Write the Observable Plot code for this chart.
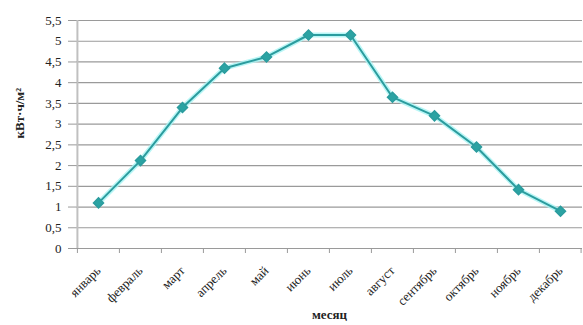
<!DOCTYPE html>
<html>
<head>
<meta charset="utf-8">
<script src="https://cdn.jsdelivr.net/npm/d3@7"></script>
<script src="https://cdn.jsdelivr.net/npm/@observablehq/plot@0.6"></script>
<style>
  html, body { margin: 0; padding: 0; background: #fff; }
  svg { font-family: "Liberation Serif", "Times New Roman", serif; }
</style>
</head>
<body>
<div id="chart"></div>
<script>
const months = ["январь","февраль","март","апрель","май","июнь","июль","август","сентябрь","октябрь","ноябрь","декабрь"];
const values = [1.1, 2.12, 3.4, 4.35, 4.62, 5.15, 5.15, 3.65, 3.2, 2.45, 1.42, 0.9];
const yTicks = [0, 0.5, 1, 1.5, 2, 2.5, 3, 3.5, 4, 4.5, 5, 5.5];
const yTickLabels = ["0","0,5","1","1,5","2","2,5","3","3,5","4","4,5","5","5,5"];
const yLabel = "кВт·ч/м²";
const xLabel = "месяц";

const W = 583, H = 325, ML = 76, MR = 1, MT = 20, MB = 77;
const step = (W - ML - MR) / months.length;
const data = months.map((m, i) => ({month: m, value: values[i]}));

const chart = Plot.plot({
  width: W, height: H,
  marginLeft: ML, marginRight: MR, marginTop: MT, marginBottom: MB,
  style: {fontFamily: "Liberation Serif, serif", fontSize: "13px", color: "#222", background: "#fff"},
  x: {type: "point", domain: months, padding: 0.5},
  y: {domain: [0, 5.5]},
  marks: [
    Plot.gridY(yTicks, {stroke: "#9a9a9a", strokeOpacity: 1, strokeWidth: 1.2}),
    Plot.axisY(yTicks, {tickSize: 8, tickPadding: 7, stroke: "#9a9a9a", tickFormat: (d) => yTickLabels[yTicks.indexOf(d)], label: null, fontSize: 13}),
    Plot.ruleY([0], {stroke: "#9a9a9a", strokeWidth: 1.2}),
    Plot.ruleX([months[0]], {dx: -step / 2, stroke: "#c0c0c0", strokeWidth: 2}),
    Plot.ruleX(months, {y1: 0, y2: 0, dx: -step / 2, insetBottom: -5, stroke: "#9a9a9a"}),
    Plot.ruleX([months[months.length - 1]], {y1: 0, y2: 0, dx: step / 2 - 0.5, insetBottom: -5, stroke: "#9a9a9a"}),
    Plot.axisX({tickSize: 0, tickPadding: 20, tickRotate: -45, label: null, fontSize: 13}),
    Plot.line(data, {x: "month", y: "value", stroke: "#a8f4f4", strokeWidth: 5, strokeOpacity: 0.8}),
    Plot.line(data, {x: "month", y: "value", stroke: "#2b9c9e", strokeWidth: 2}),
    Plot.dot(data, {x: "month", y: "value", symbol: "diamond2", r: 4.5, fill: "#2ba3a3", stroke: "#2b9c9e"}),
    Plot.text([yLabel], {frameAnchor: "left", dx: -ML + 19, dy: 4, rotate: -90, fontWeight: "bold", fontSize: 13}),
    Plot.text([xLabel], {frameAnchor: "bottom", dy: MB - 7, fontWeight: "bold", fontSize: 13})
  ]
});
document.getElementById("chart").appendChild(chart);
</script>
</body>
</html>
